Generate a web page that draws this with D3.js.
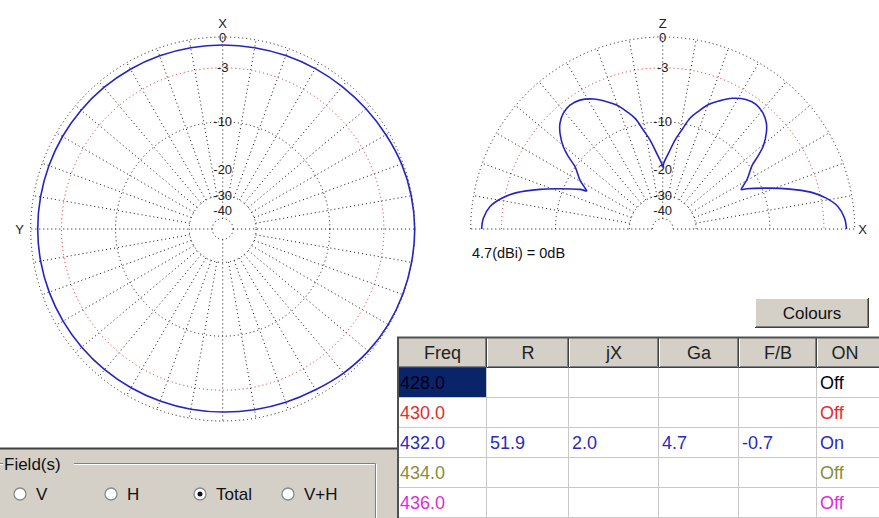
<!DOCTYPE html>
<html>
<head>
<title>Pattern plot</title>
<style type="text/css">
  body { margin: 0; background: #fff; }
  svg text { font-family: "Liberation Sans", Arial, sans-serif; }
  .grid { fill: none; stroke: #111; stroke-width: 1; stroke-dasharray: 1 3; }
  .grid-red { fill: none; stroke: #e02020; stroke-width: 1; stroke-dasharray: 1 3; }
  .trace { fill: none; stroke: #2424c4; stroke-width: 1.6; stroke-linejoin: round; }
  .lbl { font-size: 13px; fill: #222; text-anchor: middle; dominant-baseline: central; }
</style>
</head>
<body>
<div id="plot"></div>
<script src="https://cdnjs.cloudflare.com/ajax/libs/d3/7.8.5/d3.min.js"></script>
<script>
// ---- data ----
var ringDb = [0, -10, -30, -50];
var redRingDb = [-3];
var labelDb = [0, -3, -10, -20, -30, -40];
var labelText = ["0", "-3", "-10", "-20", "-30", "-40"];

// azimuth cut: angle from X axis (counter-clockwise towards Y), gain in dB
var azAngle = [0, 10, 20, 30, 40, 50, 60, 70, 80, 90, 100, 110, 120, 130, 140, 150, 160, 170,
               180, 190, 200, 210, 220, 230, 240, 250, 260, 270, 280, 290, 300, 310, 320, 330, 340, 350];
var azDb = [-0.73, -0.72, -0.70, -0.68, -0.66, -0.65, -0.64, -0.64, -0.64, -0.64, -0.65, -0.67,
            -0.70, -0.73, -0.76, -0.79, -0.81, -0.82, -0.82, -0.78, -0.70, -0.58, -0.36, -0.18,
            -0.08, -0.04, -0.02, 0.0, -0.05, -0.15, -0.32, -0.45, -0.55, -0.62, -0.68, -0.72];

// elevation cut: angle from +X horizon (counter-clockwise), gain in dB
var elAngle = [0, 3.4, 7.4, 10.8, 14, 17.9, 20.8, 25.6, 26.7, 28.3, 30.6, 35.4, 37.5, 39.6, 43,
               45.8, 49.3, 53.2, 57.3, 61.9, 66.3, 69.6, 73, 76, 78.9, 81.9, 85.5, 89, 90,
               91, 94.5, 98.1, 101.1, 104, 107, 110.4, 113.7, 118.1, 122.7, 126.8, 130.7, 134.2,
               137, 140.4, 142.5, 144.6, 149.4, 151.7, 153.3, 154.4, 159.2, 162.1, 166, 169.2,
               172.6, 176.6, 180];
var elDb = [-0.75, -0.9, -1.45, -2.5, -3.95, -6.6, -8.8, -12.4, -13.4, -12.7, -11.5, -9.6, -8.0,
            -6.6, -5.2, -4.4, -3.85, -3.6, -3.8, -4.45, -5.45, -6.3, -7.6, -8.85, -10.9, -12.9,
            -15.8, -18.3, -19.4,
            -18.4, -15.93, -13.03, -11.05, -8.95, -7.69, -6.40, -5.54, -4.54, -3.88, -3.70, -3.95,
            -4.54, -5.37, -6.83, -8.23, -9.94, -11.88, -13.14, -13.97, -12.69, -9.04, -6.83, -4.19,
            -2.72, -1.68, -1.14, -1.01];

var headers = ["Freq", "R", "jX", "Ga", "F/B", "ON"];
var freqs = ["428.0", "430.0", "432.0", "434.0", "436.0"];
var colR = ["", "", "51.9", "", ""];
var colJX = ["", "", "2.0", "", ""];
var colGa = ["", "", "4.7", "", ""];
var colFB = ["", "", "-0.7", "", ""];
var colOn = ["Off", "Off", "On", "Off", "Off"];

var fields = ["V", "H", "Total", "V+H"];
var selectedField = "Total";

// ---- layout ----
var width = 879, height = 518;
var R = 192;
var azCenter = [222.7, 229], elCenter = [662.7, 229];
var rowColors = ["#000018", "#e82a2a", "#2a2ac0", "#8c8c3a", "#dd2cdd"];
var colEdges = [398, 487, 569, 659, 739, 817, 873];
var fieldX = [20, 111, 200, 288];

var svg = d3.select("#plot").append("svg")
    .attr("width", width)
    .attr("height", height);

// ARRL style log scale: radius goes with power^0.253
var rScale = d3.scalePow().exponent(0.2531).domain([0, 1]).range([0, R]);
function rad(db) { return rScale(Math.pow(10, db / 10)); }

function drawGrid(g, full) {
    var spokes = full ? d3.range(0, 360, 10) : d3.range(-90, 91, 10);
    spokes.forEach(function (a) {
        var axis = (a % 90 === 0);
        var p0 = d3.pointRadial(a * Math.PI / 180, axis ? rad(-50) : rad(-30));
        var p1 = d3.pointRadial(a * Math.PI / 180, R);
        g.append("line").attr("class", "grid")
            .attr("x1", p0[0]).attr("y1", p0[1])
            .attr("x2", p1[0]).attr("y2", p1[1]);
    });
    function ring(db, cls) {
        if (full) {
            g.append("circle").attr("class", cls).attr("r", rad(db));
        } else {
            var p = d3.path();
            p.arc(0, 0, rad(db), Math.PI, 2 * Math.PI);
            g.append("path").attr("class", cls).attr("d", p.toString());
        }
    }
    ringDb.forEach(function (d) { ring(d, "grid"); });
    redRingDb.forEach(function (d) { ring(d, "grid-red"); });

    g.selectAll("text.lbl").data(labelDb).enter().append("text")
        .attr("class", "lbl")
        .attr("x", 0)
        .attr("y", function (d) { return -rad(d); })
        .text(function (d, i) { return labelText[i]; });
}

//  Azimuth plot
var az = svg.append("g").attr("transform", "translate(" + azCenter + ")");
drawGrid(az, true);
az.append("text").attr("class", "lbl").attr("x", 0).attr("y", -206).text("X");
az.append("text").attr("class", "lbl").attr("x", -203).attr("y", 0).text("Y");

var azLine = d3.lineRadial()
    .angle(function (d) { return -d[0] * Math.PI / 180; })
    .radius(function (d) { return rad(d[1]); })
    .curve(d3.curveCatmullRomClosed);
az.append("path").attr("class", "trace")
    .attr("d", azLine(d3.zip(azAngle, azDb)));

//  Elevation plot
var el = svg.append("g").attr("transform", "translate(" + elCenter + ")");
drawGrid(el, false);
el.append("text").attr("class", "lbl").attr("x", 0).attr("y", -206).text("Z");
el.append("text").attr("class", "lbl").attr("x", 200).attr("y", 0).text("X");

var elLine = d3.lineRadial()
    .angle(function (d) { return (90 - d[0]) * Math.PI / 180; })
    .radius(function (d) { return rad(d[1]); })
    .curve(d3.curveCatmullRom);
el.append("path").attr("class", "trace")
    .attr("d", elLine(d3.zip(elAngle, elDb)));

svg.append("text")
    .attr("x", 472).attr("y", 253)
    .attr("dominant-baseline", "central")
    .style("font-size", "14.5px").style("fill", "#111")
    .text("4.7(dBi) = 0dB");

//  Colours button
function bevel(g, x, y, w, h) {
    g.append("rect").attr("x", x).attr("y", y).attr("width", w).attr("height", h).attr("fill", "#d4d0c8");
    g.append("path").attr("d", "M" + (x + 0.5) + "," + (y + h - 1) + "V" + (y + 0.5) + "H" + (x + w - 1))
        .attr("stroke", "#fff").attr("fill", "none");
    g.append("path").attr("d", "M" + (x + 1) + "," + (y + h - 1.5) + "H" + (x + w - 1.5) + "V" + (y + 1))
        .attr("stroke", "#808080").attr("fill", "none");
    g.append("path").attr("d", "M" + x + "," + (y + h - 0.5) + "H" + (x + w - 0.5) + "V" + y)
        .attr("stroke", "#404040").attr("fill", "none");
}
var btn = svg.append("g");
bevel(btn, 755, 298, 114, 30);
btn.append("text").attr("x", 812).attr("y", 313)
    .attr("text-anchor", "middle").attr("dominant-baseline", "central")
    .style("font-size", "17px").style("fill", "#111").text("Colours");

//  Table
var table = svg.append("g");
var rowY = d3.scaleBand().domain(freqs).range([368, 518]);
var cols = [freqs, colR, colJX, colGa, colFB, colOn];

table.append("rect").attr("x", 398).attr("y", 368).attr("width", width - 398).attr("height", 150).attr("fill", "#fff");
headers.forEach(function (h, i) {
    var x0 = colEdges[i], x1 = (i === headers.length - 1) ? width + 2 : colEdges[i + 1];
    bevel(table, x0, 337, x1 - x0, 31);
    table.append("text")
        .attr("x", (colEdges[i] + (colEdges[i + 1] || 873)) / 2).attr("y", 352.5)
        .attr("text-anchor", "middle").attr("dominant-baseline", "central")
        .style("font-size", "18px").style("fill", "#222").text(h);
});
table.append("rect").attr("x", 398).attr("y", rowY("428.0"))
    .attr("width", colEdges[1] - 398).attr("height", rowY.bandwidth()).attr("fill", "#0a246a");
freqs.forEach(function (f) {
    table.append("line").attr("x1", 398).attr("x2", width)
        .attr("y1", rowY(f) + rowY.bandwidth() - 0.5).attr("y2", rowY(f) + rowY.bandwidth() - 0.5)
        .attr("stroke", "#c8c8c8");
});
colEdges.slice(1, 6).forEach(function (x) {
    table.append("line").attr("x1", x - 0.5).attr("x2", x - 0.5).attr("y1", 368).attr("y2", 518)
        .attr("stroke", "#c8c8c8");
});
cols.forEach(function (col, c) {
    table.selectAll("text.c" + c).data(col).enter().append("text")
        .attr("class", "c" + c)
        .attr("x", colEdges[c] + (c === 0 ? 2 : 3))
        .attr("y", function (d, i) { return rowY(freqs[i]) + rowY.bandwidth() / 2; })
        .attr("dominant-baseline", "central")
        .style("font-size", "18px")
        .style("fill", function (d, i) { return rowColors[i]; })
        .text(function (d) { return d; });
});
table.append("path").attr("d", "M398,518V337.5H" + width).attr("stroke", "#505050").attr("stroke-width", 2).attr("fill", "none");

//  Field(s) panel
var panel = svg.append("g");
panel.append("rect").attr("x", 0).attr("y", 448).attr("width", 397).attr("height", 70).attr("fill", "#d4d0c8");
panel.append("line").attr("x1", 0).attr("x2", 397).attr("y1", 448.5).attr("y2", 448.5).attr("stroke", "#404040").attr("stroke-width", 2);
panel.append("path").attr("d", "M0,463.5H375.5V518").attr("stroke", "#808080").attr("fill", "none");
panel.append("path").attr("d", "M0,464.5H374.5M376.5,464V518").attr("stroke", "#fff").attr("fill", "none");
panel.append("rect").attr("x", 3).attr("y", 456).attr("width", 71).attr("height", 16).attr("fill", "#d4d0c8");
panel.append("text").attr("x", 4).attr("y", 464).attr("dominant-baseline", "central")
    .style("font-size", "17px").style("fill", "#111").text("Field(s)");

fields.forEach(function (f, i) {
    var g = panel.append("g").attr("transform", "translate(" + fieldX[i] + ",494)");
    g.append("circle").attr("r", 6).attr("fill", "#fff").attr("stroke", "#8a8a8a").attr("stroke-width", 1.3);
    if (f === selectedField) g.append("circle").attr("r", 2.5).attr("fill", "#111");
    g.append("text").attr("x", 16).attr("y", 0).attr("dominant-baseline", "central")
        .style("font-size", "17px").style("fill", "#111").text(f);
});
</script>
</body>
</html>
